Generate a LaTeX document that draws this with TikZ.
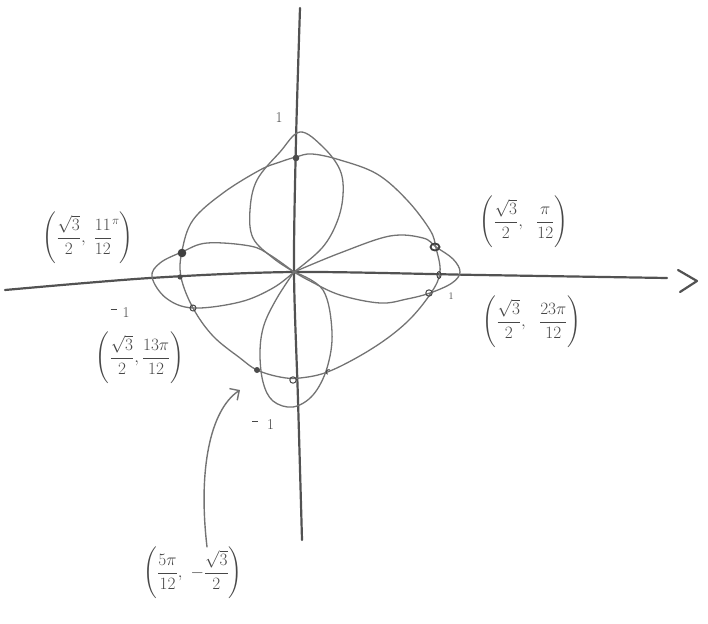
\documentclass[tikz,border=0pt]{standalone}
\usepackage{amsmath}
\usetikzlibrary{arrows.meta}
\begin{document}
\begin{tikzpicture}[x=1pt,y=-1pt,
  axis/.style={draw=black!68, line width=2.2pt, line cap=round, line join=round},
  curve/.style={draw=black!55, line width=1.3pt, line cap=round, line join=round},
  lbl/.style={text=black!72, font=\fontsize{17}{20}\selectfont, inner sep=0pt},
  ticklbl/.style={text=black!72, font=\fontsize{15}{17}\selectfont, inner sep=0pt},
  ptmark/.style={draw=black!72, line width=1pt},
]
\useasboundingbox (0,0) rectangle (708,623);
\coordinate (O) at (294,272);

% axes
\draw[axis] plot[smooth, tension=0.5] coordinates {(300,8) (296,140) (O) (298,400) (302,540)};
\draw[axis] plot[smooth, tension=0.5] coordinates {(5,290) (150,278) (O) (480,275) (667,278)};
\draw[axis] (678,270) -- (697,281) -- (680,292);

% circle r = sqrt(3)/2
\draw[curve] plot[smooth cycle, tension=0.6] coordinates {
 (296,157) (312,154) (340,160) (377,174) (407,200) (430,230) (436,248) (440,272)
 (431,293) (407,322) (373,348) (330,371) (300,378) (280,377) (257,370) (240,358)
 (213,336) (193,308) (181,277) (182,251) (193,220) (223,193) (260,170) (280,162)};

% petals
\draw[curve] plot[smooth, tension=0.6] coordinates {
 (O) (273,258) (253,238) (250,210) (257,180) (280,152) (300,132) (323,147) (340,170)
 (343,195) (337,222) (322,248) (O)};
\draw[curve] plot[smooth, tension=0.6] coordinates {
 (O) (340,253) (390,236) (423,238) (436,247) (453,259) (460,272) (452,283) (430,293)
 (407,299) (380,303) (340,295) (310,281) (O)};
\draw[curve] plot[smooth, tension=0.6] coordinates {
 (O) (270,255) (250,246) (207,243) (182,252) (160,263) (152,277) (166,298) (193,308)
 (240,302) (273,288) (O)};
\draw[curve] plot[smooth, tension=0.6] coordinates {
 (O) (277,298) (264,325) (260,352) (263,382) (273,401) (293,407) (313,395) (327,368)
 (332,332) (323,290) (O)};

% intersection marks
\fill[black!70] (296,158) circle (3.3pt);
\fill[black!75] (182,253) circle (4.3pt);
\fill[black!70] (180,277) circle (2.6pt);
\draw[ptmark] (193,308) circle (3pt);
\fill[black!70] (257,370) circle (3pt);
\draw[ptmark] (293,380) circle (3.2pt);
\draw[black!75, line width=1.8pt] (435,247) ellipse (4.5pt and 3.5pt);
\draw[ptmark] (439,275) ellipse (2pt and 3.5pt);
\draw[ptmark] (429,293) circle (3.2pt);
\draw[ptmark] (330,370) arc (60:240:2.5pt);

% tick labels
\node[ticklbl] (t1) at (279,118) {1};
\node[ticklbl] (t2) at (451,296) {\fontsize{10}{11}\selectfont 1};
\node[ticklbl] (t3) at (120,313) {\raisebox{0.55em}{\rule{6pt}{1.2pt}}\hspace{6pt}1};
\node[ticklbl] (t4) at (263,425) {\raisebox{0.55em}{\rule{6pt}{1.2pt}}\hspace{9pt}1};

% point labels
\node[lbl] (a) at (88,238) {$\left(\dfrac{\sqrt3}{2},\ \dfrac{11}{12}^{\pi}\right)$};
\node[lbl] (b) at (524,222) {$\left(\dfrac{\sqrt3}{2},\ \ \dfrac{\pi}{12}\right)$};
\node[lbl] (c) at (532,322) {$\left(\dfrac{\sqrt3}{2},\ \ \dfrac{23\pi}{12}\right)$};
\node[lbl] (d) at (140,358) {$\left(\dfrac{\sqrt3}{2},\dfrac{13\pi}{12}\right)$};
\node[lbl] (e) at (193,573) {$\left(\dfrac{5\pi}{12},\ -\dfrac{\sqrt3}{2}\right)$};

% arrow
\coordinate (tip) at (240,390);
\draw[curve, line width=1.4pt, -{Straight Barb[length=7pt,width=14pt]}]
  (e.north -| 207,0) .. controls (198,470) and (210,410) .. (tip);
\end{tikzpicture}
\end{document}
